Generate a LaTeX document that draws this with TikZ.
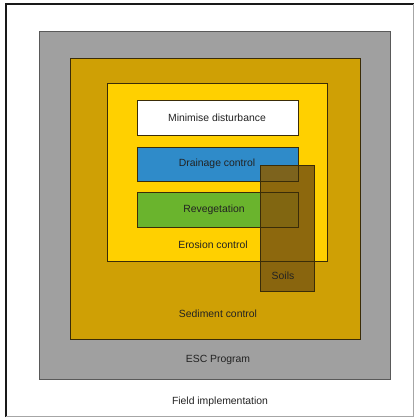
\documentclass[tikz,border=0pt]{standalone}
\usepackage{fontspec}
\setmainfont{Liberation Sans}
\definecolor{escgray}{HTML}{A0A0A0}
\definecolor{escgold}{HTML}{CFA005}
\definecolor{escyellow}{HTML}{FFD000}
\definecolor{escblue}{HTML}{2F8BC9}
\definecolor{escgreen}{HTML}{6AB42D}
\definecolor{escsoil}{HTML}{84600F}
\definecolor{escline}{HTML}{3A2C08}
\definecolor{esctext}{HTML}{222222}
\begin{document}
\begin{tikzpicture}[x=1pt,y=-1pt,
  box/.style={draw=escline, line width=0.9pt, inner sep=0pt, anchor=north west},
  lbl/.style={font=\fontsize{10.4}{12}\selectfont, text=esctext, inner sep=0pt}]
\useasboundingbox (0,0) rectangle (414,418);
\fill[white] (0,0) rectangle (414,418);
% frame
\draw[black!90, line width=2.2pt] (6,417) -- (6,4) -- (414,4);
\draw[gray!70, line width=0.8pt] (6,416) -- (413,416) -- (413,4);
% boxes
\node[box, draw=black!65, fill=escgray, minimum width=351pt, minimum height=348pt] (esc) at (39,31) {};
\node[box, fill=escgold, minimum width=290pt, minimum height=281pt] (sed) at (70,58) {};
\node[box, fill=escyellow, minimum width=220pt, minimum height=178pt] (ero) at (107,83) {};
\node[box, fill=white, minimum width=161pt, minimum height=35pt] (mini) at (137,100) {};
\node[box, fill=escblue, minimum width=161pt, minimum height=34pt] (drain) at (137,147) {};
\node[box, fill=escgreen, minimum width=161pt, minimum height=35pt] (reveg) at (137,192) {};
% soils (semi-transparent)
\node[box, draw=none, fill=escsoil, fill opacity=0.92, minimum width=54pt, minimum height=126pt] (soils) at (260,165) {};
\begin{scope}
\clip (soils.north west) rectangle (soils.south east);
\draw[escline, line width=0.9pt] (ero.north west) rectangle (ero.south east);
\draw[escline, line width=0.9pt] (drain.north west) rectangle (drain.south east);
\draw[escline, line width=0.9pt] (reveg.north west) rectangle (reveg.south east);
\end{scope}
\draw[escline, line width=0.9pt] (soils.north west) rectangle (soils.south east);
% labels
\node[lbl] (tmini) at (217,118) {Minimise disturbance};
\node[lbl] (tdrain) at (217,164) {Drainage control};
\node[lbl] (treveg) at (214,210) {Revegetation};
\node[lbl] (tero) at (213,245) {Erosion control};
\node[lbl] (tsoil) at (283,276) {Soils};
\node[lbl] (tsed) at (218,314) {Sediment control};
\node[lbl] (tesc) at (218,360) {ESC Program};
\node[lbl] (tfield) at (220,402) {Field implementation};
\end{tikzpicture}
\end{document}
